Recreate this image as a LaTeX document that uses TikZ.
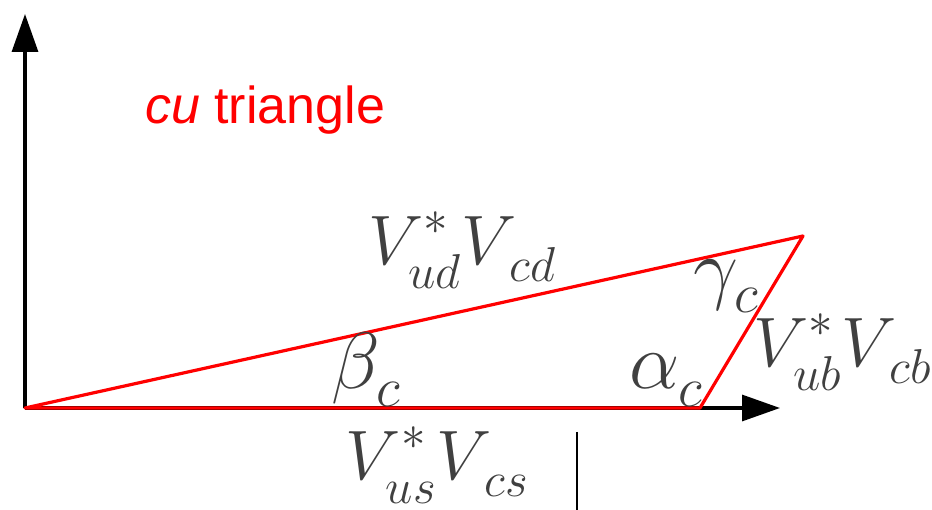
\documentclass[tikz,border=0pt]{standalone}
\usepackage{fix-cm}
\usepackage{fontspec}
\newfontfamily\titlefont{Liberation Sans}
\usetikzlibrary{arrows.meta}

\definecolor{labelgray}{HTML}{404040}

% lowered subscript and raised star, as in the figure
\newcommand\lowsub[1]{\raisebox{-6pt}{$\scriptstyle #1$}}
\newcommand\highstar{\raisebox{5pt}{$\scriptstyle *$}}

\tikzset{
  axis/.style={line width=3.2pt, -{Triangle[length=38pt,width=26pt]}},
  side/.style={red, line width=3.2pt, line join=round},
  ckm/.style={text=labelgray, inner sep=0pt, font=\fontsize{70}{70}\selectfont},
  anglabel/.style={text=labelgray, inner sep=0pt, font=\fontsize{80}{80}\selectfont},
}

\begin{document}
\begin{tikzpicture}[x=1pt, y=-1pt]
  \useasboundingbox (0,0) rectangle (932,510);

  % corners of the triangle
  \coordinate (origin) at (25,408);
  \coordinate (alphac) at (700,408);
  \coordinate (gammac) at (803,236);
  \coordinate (xend) at (780,408);
  \coordinate (yend) at (25,14);

  % axes
  \draw[axis] (origin) -- (xend);
  \draw[axis] (origin) -- (yend);

  % triangle
  \draw[side] (origin) -- (alphac) -- (gammac) -- cycle;

  \node[text=red, font=\titlefont\fontsize{52}{52}\selectfont] (title) at (265,110) {\textit{cu} triangle};

  % sides
  \node[ckm] (vus) at (437,465) {$V^{\highstar}_{\lowsub{us}}V_{\lowsub{\,cs}}$};
  \node[ckm] (vud) at (462,250) {$V^{\highstar}_{\lowsub{ud}}V_{\lowsub{\,cd}}$};
  \node[ckm] (vub) at (842,352) {$V^{\highstar}_{\lowsub{ub}}V_{\lowsub{\,cb}}$};

  % angles
  \node[anglabel] (beta) at (366,370) {$\beta_{\lowsub{c}}$};
  \node[anglabel] (alpha) at (666,380) {$\alpha_{\lowsub{c}}$};
  \node[anglabel] (gamma) at (726,286) {$\gamma_{\lowsub{c}}$};

  % thin mark below the axis
  \coordinate (marktop) at (577,432);
  \coordinate (markbot) at (577,510);
  \draw[line width=1.2pt] (marktop) -- (markbot);
\end{tikzpicture}
\end{document}
